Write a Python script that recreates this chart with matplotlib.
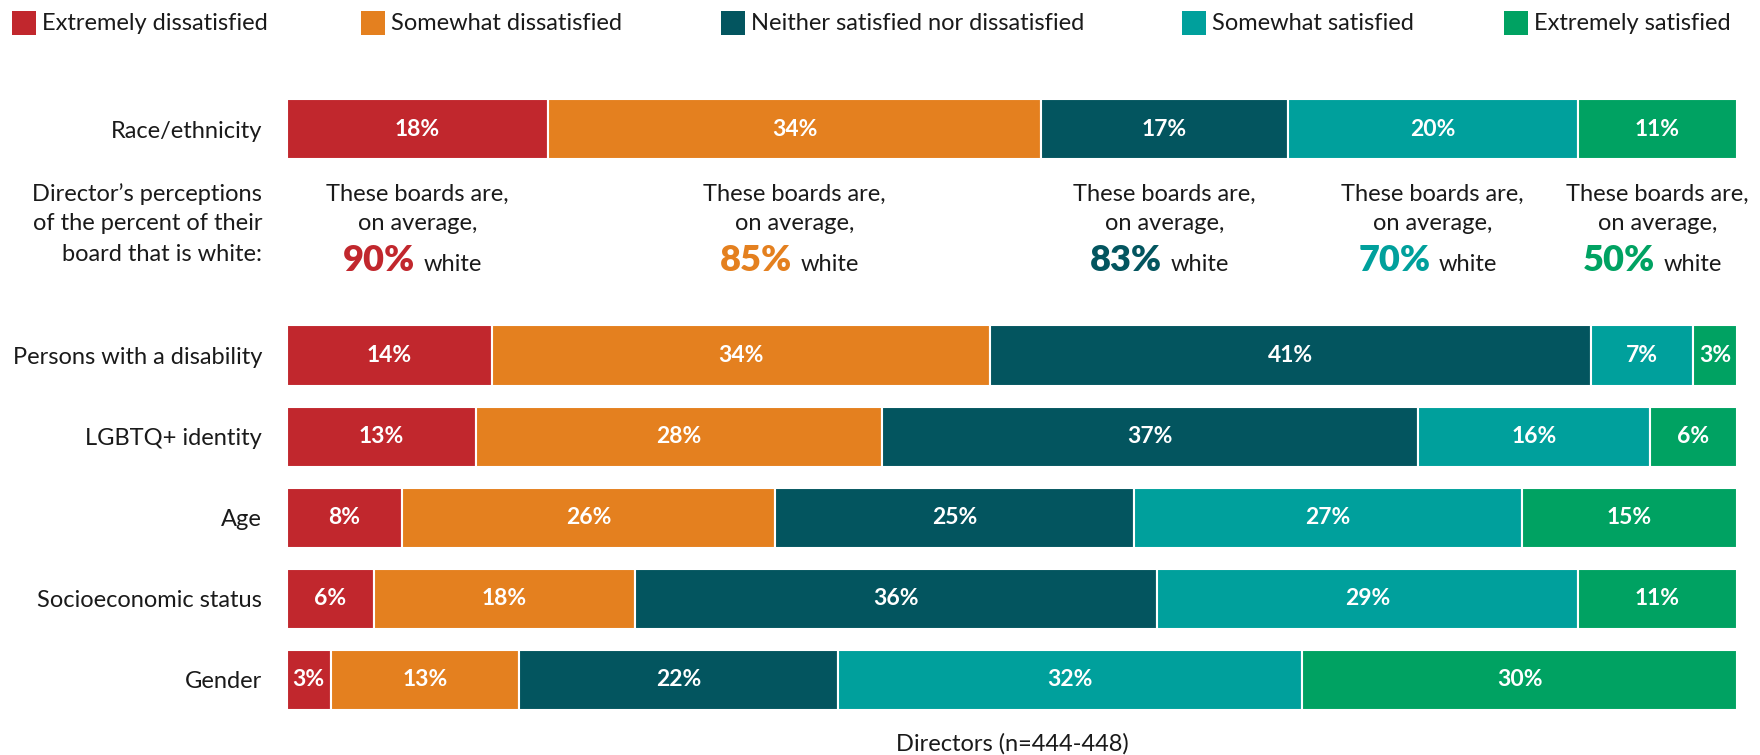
import numpy as np
import matplotlib.pyplot as plt
from matplotlib.transforms import blended_transform_factory
from matplotlib.patches import Rectangle

plt.rcParams["font.family"] = ["Lato", "DejaVu Sans"]

categories = ["Race/ethnicity", "Persons with a disability", "LGBTQ+ identity",
              "Age", "Socioeconomic status", "Gender"]
levels = ["Extremely dissatisfied", "Somewhat dissatisfied",
          "Neither satisfied nor dissatisfied", "Somewhat satisfied",
          "Extremely satisfied"]
colors = ["#C1272D", "#E4801F", "#03555F", "#00A09C", "#00A262"]

extremely_dissatisfied = [18, 14, 13, 8, 6, 3]
somewhat_dissatisfied = [34, 34, 28, 26, 18, 13]
neither = [17, 41, 37, 25, 36, 22]
somewhat_satisfied = [20, 7, 16, 27, 29, 32]
extremely_satisfied = [11, 3, 6, 15, 11, 30]

# average share of white board members, per satisfaction level (race row)
avg_white = [90, 85, 83, 70, 50]

values = np.array([extremely_dissatisfied, somewhat_dissatisfied, neither,
                   somewhat_satisfied, extremely_satisfied], dtype=float)
shares = values / values.sum(axis=0) * 100
lefts = np.vstack([np.zeros(values.shape[1]), np.cumsum(shares, axis=0)[:-1]])

y_pos = [6.8, 4, 3, 2, 1, 0]
text_color = "#1a1a1a"
fs = 17
W, H = 1760, 755

fig = plt.figure(figsize=(17.6, 7.55), dpi=100)
ax = fig.add_axes([287 / W, 0.035, 1450 / W, 0.8585])

for i, level in enumerate(levels):
    bars = ax.barh(y_pos, shares[i], left=lefts[i], height=0.75,
                   color=colors[i], edgecolor="white", linewidth=1.5)
    ax.bar_label(bars, labels=[f"{int(v)}%" for v in values[i]],
                 label_type="center", color="white", fontsize=16.5,
                 fontweight="bold")

ax.set_xlim(0, 100)
ax.set_ylim(-0.6, 7.4)
ax.set_yticks(y_pos)
ax.set_yticklabels(categories, fontsize=fs, color=text_color)
ax.tick_params(axis="y", length=0, pad=18)
ax.set_xticks([])
for side in ax.spines.values():
    side.set_visible(False)

# average-whiteness notes under the race/ethnicity bar
trans = blended_transform_factory(ax.transData, fig.transFigure)
for i, pct in enumerate(avg_white):
    cx = lefts[i][0] + shares[i][0] / 2
    ax.text(cx, 1 - 194 / H, "These boards are,", transform=trans,
            ha="center", va="center", fontsize=fs, color=text_color)
    ax.text(cx, 1 - 224 / H, "on average,", transform=trans,
            ha="center", va="center", fontsize=fs, color=text_color)
    ax.annotate(f"{pct}%", (cx, 1 - 271 / H), xycoords=trans,
                xytext=(-2, 0), textcoords="offset pixels",
                ha="right", va="baseline", fontsize=26, fontweight="heavy",
                color=colors[i])
    ax.annotate("white", (cx, 1 - 271 / H), xycoords=trans,
                xytext=(6, 0), textcoords="offset pixels",
                ha="left", va="baseline", fontsize=fs, color=text_color)

note_lines = ["Director\u2019s perceptions", "of the percent of their",
              "board that is white:"]
for line, py in zip(note_lines, [194, 224, 255]):
    fig.text(262 / W, 1 - py / H, line, ha="right", va="center",
             fontsize=fs, color=text_color)

fig.text(1012 / W, 1 - 744 / H, "Directors (n=444-448)", ha="center",
         va="center", fontsize=fs, color=text_color)

# legend row across the top
legend_x = [12, 361, 721, 1182, 1504]
for x, c, label in zip(legend_x, colors, levels):
    fig.patches.append(Rectangle((x / W, 1 - 35 / H), 24 / W, 24 / H,
                                 transform=fig.transFigure, facecolor=c,
                                 edgecolor="none"))
    fig.text((x + 30) / W, 1 - 23 / H, label, ha="left", va="center",
             fontsize=fs, color=text_color)

fig.savefig("out.png", dpi=100, facecolor="white")
